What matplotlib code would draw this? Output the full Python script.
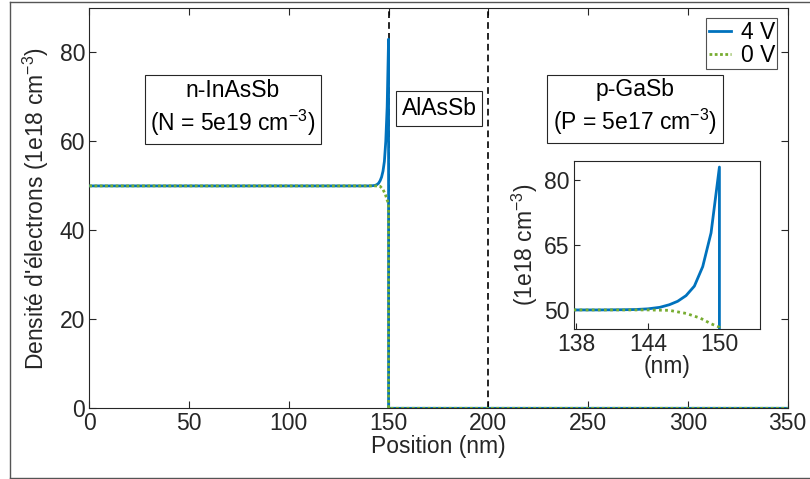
import numpy as np
import matplotlib
matplotlib.use('Agg')
import matplotlib.pyplot as plt
from matplotlib.lines import Line2D

plt.rcParams['font.family'] = ['Liberation Sans', 'DejaVu Sans']
plt.rcParams['mathtext.fontset'] = 'custom'
plt.rcParams['mathtext.rm'] = 'Liberation Sans'
plt.rcParams['mathtext.default'] = 'regular'

# Electron density (1e18 cm-3) vs position (nm)
pos_4v = [0, 138, 140, 142, 143, 144, 145, 145.8, 146.5, 147.2, 147.9, 148.6, 149.3, 150.0, 150.0, 350]
dens_4v = [50, 50, 50, 50.05, 50.1, 50.25, 50.6, 51.2, 52.0, 53.3, 55.5, 60.0, 67.8, 83.0, 0, 0]

pos_0v = [0, 138, 144, 145.8, 147.2, 148.4, 149.3, 150.0, 150.0, 350]
dens_0v = [50, 50, 50, 49.9, 49.2, 48.1, 46.8, 46.0, 0, 0]

interfaces = [150, 200]
labels = ['4 V', '0 V']

blue = '#0072BD'
green = '#77AC30'
axcol = '#262626'
fs = 16.5

fig = plt.figure(figsize=(8.1, 4.79), dpi=100)

# grey frame round the figure (left, top, bottom only)
fx0, fy0, fy1 = 9.5 / 810, 1.5 / 479, 477.5 / 479
for xs, ys in [([fx0, fx0], [fy0, fy1]), ([fx0, 1.0], [fy1, fy1]), ([fx0, 1.0], [fy0, fy0])]:
    fig.add_artist(Line2D(xs, ys, transform=fig.transFigure, color='#555555', linewidth=1.0))

ax = fig.add_axes([0.1102, 0.1476, 0.8622, 0.8357])
ax.plot(pos_4v, dens_4v, color=blue, linewidth=2.0, label=labels[0], zorder=3)
ax.plot(pos_0v, dens_0v, color=green, linewidth=2.0, linestyle=(0, (1, 0.9)), label=labels[1], zorder=4)
for xi in interfaces:
    ax.axvline(xi, color='black', linestyle=(0, (4, 2.5)), linewidth=1.2, zorder=2)

ax.set_xlim(0, 350)
ax.set_ylim(0, 90)
ax.set_xticks([0, 50, 100, 150, 200, 250, 300, 350])
ax.set_yticks([0, 20, 40, 60, 80])
ax.tick_params(direction='in', length=5, width=0.8, labelsize=fs, colors=axcol,
               top=True, right=True, pad=3)
for s in ax.spines.values():
    s.set_color(axcol)
    s.set_linewidth(0.8)
ax.set_xlabel('Position (nm)', fontsize=fs, color=axcol, labelpad=0)
ax.set_ylabel("Densité d'électrons (1e18 cm$^{-3}$)", fontsize=fs, color=axcol, labelpad=6)

box = dict(boxstyle='square,pad=0.25', facecolor='white', edgecolor=axcol, linewidth=0.8)
ax.text(72, 67.4, 'n-InAsSb\n(N = 5e19 cm$^{-3}$)', fontsize=fs, ha='center', va='center',
        multialignment='center', bbox=box, linespacing=1.25)
ax.text(175.3, 67.4, 'AlAsSb', fontsize=fs, ha='center', va='center', bbox=box)
ax.text(273.5, 67.6, 'p-GaSb\n(P = 5e17 cm$^{-3}$)', fontsize=fs, ha='center', va='center',
        multialignment='center', bbox=box, linespacing=1.25)

leg = ax.legend(loc='upper right', fontsize=fs, frameon=True, fancybox=False,
                handlelength=1.0, handletextpad=0.4, labelspacing=0.0,
                borderpad=0.1, borderaxespad=0.45, edgecolor=axcol)
leg.get_frame().set_linewidth(0.8)

# inset zoom on the interface
ins = fig.add_axes([0.7086, 0.3132, 0.2296, 0.3507])
ins.plot(pos_4v, dens_4v, color=blue, linewidth=2.0, zorder=3)
ins.plot(pos_0v, dens_0v, color=green, linewidth=2.0, linestyle=(0, (1, 1.2)), zorder=4)
ins.set_xlim(137.8, 153.4)
ins.set_ylim(45.6, 84.4)
ins.set_xticks([138, 144, 150])
ins.set_yticks([50, 65, 80])
ins.tick_params(direction='in', length=4, width=0.8, labelsize=fs, colors=axcol, pad=3)
for s in ins.spines.values():
    s.set_color(axcol)
    s.set_linewidth(0.8)
ins.set_xlabel('(nm)', fontsize=fs, color=axcol, labelpad=-1)
ins.set_ylabel('(1e18 cm$^{-3}$)', fontsize=fs, color=axcol, labelpad=3)

fig.savefig('out.png', dpi=100)
